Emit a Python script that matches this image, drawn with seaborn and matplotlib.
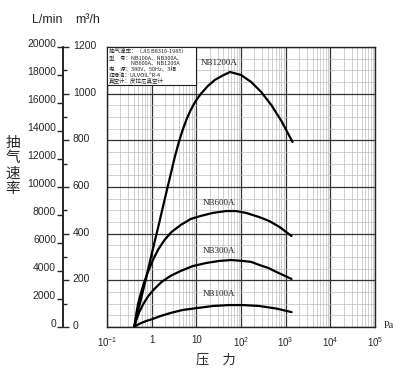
import matplotlib
matplotlib.use('Agg')
import matplotlib.pyplot as plt
from matplotlib.ticker import LogLocator, MultipleLocator, FixedLocator, FixedFormatter, NullFormatter
from matplotlib.patches import Rectangle
from matplotlib.transforms import offset_copy
import seaborn as sns
import pandas as pd

# pressure (Pa) / pumping speed (m3/h)
p_1200 = [0.407, 0.556, 0.759, 1.04, 1.42, 1.94, 2.64, 3.25, 4.01, 4.93, 6.07, 7.48, 9.69, 12.6,
          18.1, 26.0, 37.4, 56.8, 100, 169, 284, 478, 804, 1423]
s_1200 = [0, 107, 214, 326, 433, 544, 651, 724, 789, 844, 891, 930, 969, 999,
          1033, 1059, 1076, 1093, 1080, 1050, 1007, 951, 883, 793]
p_600 = [0.407, 0.452, 0.501, 0.585, 0.684, 0.842, 1.09, 1.42, 1.94, 2.78, 4.45, 7.48, 12.6,
         23.5, 46.1, 77.5, 130, 256, 431, 725, 1352]
s_600 = [0, 56, 103, 150, 193, 240, 291, 334, 373, 407, 437, 463, 476,
         489, 497, 497, 489, 471, 454, 429, 390]
p_300 = [0.407, 0.452, 0.528, 0.650, 0.842, 1.15, 1.66, 2.64, 4.45, 8.29, 16.3, 32.0, 59.8,
         112, 169, 256, 409, 620, 1352]
s_300 = [0, 30, 64, 99, 133, 163, 193, 219, 240, 261, 274, 283, 287,
         283, 279, 266, 253, 236, 206]
p_100 = [0.407, 0.475, 0.585, 0.759, 1.04, 1.57, 2.64, 4.93, 10.2, 23.5, 53.9, 112, 256, 620, 1352]
s_100 = [0, 9, 17, 26, 34, 47, 60, 73, 81, 90, 94, 94, 90, 79, 64]

models = ['NB1200A', 'NB600A', 'NB300A', 'NB100A']
label_pos = {'NB1200A': (32, 1131), 'NB600A': (32, 531), 'NB300A': (32, 326), 'NB100A': (32, 141)}

x_ticks = [0.1, 1, 10, 100, 1000, 1e4, 1e5]
x_labels = ['$10^{-1}$', '1', '10', '$10^{2}$', '$10^{3}$', '$10^{4}$', '$10^{5}$']
lmin_ticks = list(range(0, 20001, 2000))
m3h_ticks = list(range(0, 1201, 200))

info_lines = ['抽气速率：（JIS B8316-1985）',
              '型　号：NB100A、NB300A、',
              '　　　　NB600A、NB1200A',
              '电　源：380V、50Hz、3相',
              '润滑油：ULVOIL®R-4',
              '真空计：皮拉尼真空计']

df = pd.concat([
    pd.DataFrame({'pressure': p, 'speed': s, 'model': m})
    for m, p, s in zip(models, [p_1200, p_600, p_300, p_100], [s_1200, s_600, s_300, s_100])
])

sns.set_style('white')
plt.rcParams['font.family'] = ['Liberation Sans', 'Noto Sans CJK SC', 'DejaVu Sans']
plt.rcParams['mathtext.fontset'] = 'custom'
plt.rcParams['mathtext.rm'] = 'Liberation Sans'
plt.rcParams['mathtext.it'] = 'Liberation Sans'

fig = plt.figure(figsize=(4, 3.75), dpi=100)
W, H = 400, 375
ax = fig.add_axes([107 / W, 48 / H, 268 / W, 280 / H])

sns.lineplot(data=df, x='pressure', y='speed', hue='model', palette=['black'] * 4,
             legend=False, lw=1.6, sort=True, estimator=None, ax=ax, zorder=5)
ax.set_xscale('log')
ax.set_xlim(0.1, 1e5)
ax.set_ylim(0, 1200)

ax.xaxis.set_major_locator(FixedLocator(x_ticks))
ax.xaxis.set_major_formatter(FixedFormatter(x_labels))
ax.xaxis.set_minor_locator(LogLocator(base=10, subs=range(2, 10), numticks=20))
ax.xaxis.set_minor_formatter(NullFormatter())
ax.yaxis.set_major_locator(MultipleLocator(200))
ax.yaxis.set_minor_locator(MultipleLocator(50))
ax.grid(which='major', color='#333333', lw=0.9)
ax.grid(which='minor', color='#bdbdbd', lw=0.5)
ax.set_axisbelow(True)
ax.tick_params(axis='both', which='both', length=0)
ax.tick_params(axis='x', labelsize=7, pad=6)
ax.set_yticklabels([])
ax.set_xlabel('')
ax.set_ylabel('')
for sp in ax.spines.values():
    sp.set_color('#222222')
    sp.set_linewidth(1.0)

for m in models:
    x, y = label_pos[m]
    ax.text(x, y, m, fontsize=6.5, family='Liberation Serif', ha='center', va='center', zorder=6)

# spec box in the top-left corner
ax.add_patch(Rectangle((0, 0.864), 0.332, 0.136, transform=ax.transAxes, facecolor='white',
                       edgecolor='#222222', lw=0.8, zorder=7))
for i, line in enumerate(info_lines):
    ax.text(0.007, 1 - (4 + i * 6.1) / 280, line, transform=ax.transAxes, fontsize=4,
            family=['Noto Sans CJK SC', 'DejaVu Sans'], ha='left', va='center', zorder=8)

# separate scale: L/min on the left side, m3/h on the right side of one spine
axL = fig.add_axes([63 / W, 48 / H, 0.0001, 280 / H])
axL.set_ylim(0, 20000)
axL.set_xticks([])
for s in ['top', 'bottom', 'right']:
    axL.spines[s].set_visible(False)
axL.spines['left'].set_linewidth(1.2)
axL.set_yticks(lmin_ticks)
axL.set_yticklabels([str(v) for v in lmin_ticks])
axL.tick_params(axis='y', direction='out', length=4, width=1, pad=1, labelsize=7.5)
for lab in axL.get_yticklabels():
    lab.set_transform(offset_copy(lab.get_transform(), fig=fig, x=0, y=4, units='dots'))

axR = axL.twinx()
axR.set_ylim(0, 1200)
for s in ['top', 'bottom', 'left']:
    axR.spines[s].set_visible(False)
axR.spines['right'].set_linewidth(1.2)
axR.set_yticks(m3h_ticks)
axR.set_yticklabels([str(v) for v in m3h_ticks])
axR.yaxis.set_minor_locator(MultipleLocator(100))
axR.tick_params(axis='y', which='major', direction='out', length=4, width=1, pad=3, labelsize=7.5)
axR.tick_params(axis='y', which='minor', direction='out', length=3, width=1)
for lab in axR.get_yticklabels():
    lab.set_transform(offset_copy(lab.get_transform(), fig=fig, x=0, y=2, units='dots'))

fig.text(47 / W, 1 - 20 / H, 'L/min', fontsize=9, ha='center', va='center')
fig.text(88 / W, 1 - 20 / H, 'm³/h', fontsize=9, ha='center', va='center')
fig.text(13 / W, 1 - 166 / H, '抽\n气\n速\n率', fontsize=10.5, ha='center', va='center',
         linespacing=1.15, family=['Noto Sans CJK SC', 'DejaVu Sans'])
fig.text(216 / W, 1 - 360 / H, '压　力', fontsize=9.5, ha='center', va='center',
         family=['Noto Sans CJK SC', 'DejaVu Sans'])
fig.text(389 / W, 1 - 325 / H, 'Pa', fontsize=7.5, ha='center', va='center', family='Liberation Serif')

fig.savefig('out.png', dpi=100)
